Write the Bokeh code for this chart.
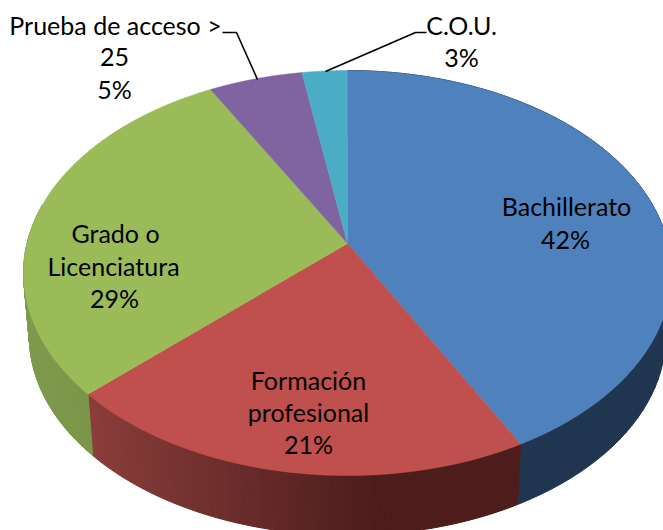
import numpy as np
from bokeh.embed import file_html
from bokeh.resources import INLINE
from bokeh.plotting import figure
from bokeh.models import Range1d
from bokeh.core.properties import value

categories = ["Bachillerato", "Formación profesional", "Grado o Licenciatura", "Prueba de acceso > 25", "C.O.U."]
shares = [42.2, 20.8, 29.0, 5.4, 2.6]
percent_labels = ["42%", "21%", "29%", "5%", "3%"]
top_colors = ["#4f81bd", "#c0504d", "#9bbb59", "#8064a2", "#4bacc6"]
rim_left = {0: "#1f3550", 1: "#8a3d3a", 2: "#7f9a4c"}
rim_right = {0: "#1f3550", 1: "#4d1d1c", 2: "#7a9548"}
rim_span = {0: (520, 663), 1: (88, 370), 2: (25, 95)}

# label lines, (text, x, y) in page pixels
label_lines = [
    ("Prueba de acceso >", 115, 24), ("25", 114, 56), ("5%", 114, 88),
    ("C.O.U.", 461, 24), ("3%", 461, 56),
    ("Bachillerato", 566, 205), ("42%", 565, 238),
    ("Grado o", 115, 232), ("Licenciatura", 113, 265), ("29%", 114, 297),
    ("Formación", 308, 379), ("profesional", 308, 411), ("21%", 308, 443),
]
leader_x = [[222, 236, 257], [325, 415, 426]]
leader_y = [[32, 32, 79], [71, 32, 32]]

W, H = 663, 530
OX, OY = 0, 0
CX, CY, A, B, K = 347.0, 243.0, 320.5, 198.2, 0.1457
DEPTH, SHRINK = 64.0, 0.982


def project(theta):
    u, v = np.sin(theta), -np.cos(theta)
    w = 1 - K * v
    return CX + A * u / w, CY + B * v / w


def lower(x, y):
    return CX + SHRINK * (x - CX), CY + SHRINK * (y - CY) + DEPTH


def mix(c1, c2, t):
    t = min(max(t, 0.0), 1.0)
    a = [int(c1[i:i + 2], 16) for i in (1, 3, 5)]
    b = [int(c2[i:i + 2], 16) for i in (1, 3, 5)]
    return "#%02x%02x%02x" % tuple(round(p + (q - p) * t) for p, q in zip(a, b))


p = figure(width=W, height=H, output_backend="svg", toolbar_location=None,
           x_range=Range1d(OX, OX + W), y_range=Range1d(OY + H, OY),
           min_border=0, outline_line_color=None)
p.axis.visible = False
p.grid.visible = False
p.background_fill_color = "#ffffff"

edges = np.cumsum([0.0] + shares) / sum(shares) * 2 * np.pi

# rim strips, only for the slices that face the viewer
for i in rim_span:
    lo, hi = rim_span[i]
    start, stop = edges[i], min(edges[i + 1], 1.5 * np.pi * 1.0 + 0.2)
    n = 70
    th = np.linspace(start, stop, n + 1)
    xu, yu = project(th)
    xl, yl = lower(xu, yu)
    xs, ys, cols = [], [], []
    for j in range(n):
        xs.append([xu[j], xu[j + 1], xl[j + 1], xl[j]])
        ys.append([yu[j], yu[j + 1], yl[j + 1], yl[j]])
        mid = 0.5 * (xu[j] + xu[j + 1])
        cols.append(mix(rim_left[i], rim_right[i], (mid - lo) / (hi - lo)))
    p.patches(xs, ys, fill_color=cols, line_color=cols, line_width=1)

# top surface
for i, col in enumerate(top_colors):
    th = np.linspace(edges[i], edges[i + 1], 160)
    x, y = project(th)
    p.patch(np.r_[CX, x], np.r_[CY, y], fill_color=col, line_color=col, line_width=0.5)

p.multi_line(leader_x, leader_y, line_color="#000000", line_width=1.6)

p.text([l[1] for l in label_lines], [l[2] for l in label_lines], text=[l[0] for l in label_lines],
       text_font=value("Lato"), text_font_size="25px", text_color="#000000",
       text_align="center", text_baseline="middle")

open("out.html", "w").write(file_html(p, INLINE))
